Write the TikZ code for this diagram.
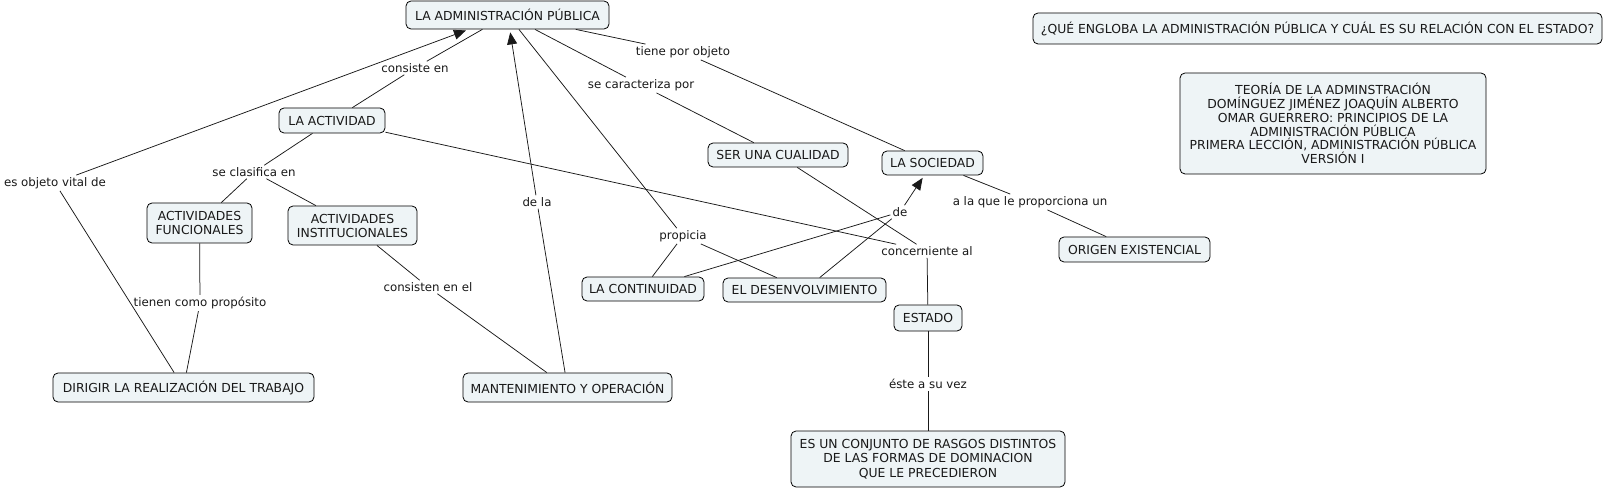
\documentclass[tikz,border=0pt]{standalone}
\usepackage{fontspec}
\setmainfont{DejaVu Sans}
\usetikzlibrary{arrows.meta}
\definecolor{cfill}{RGB}{238,244,246}
\definecolor{ctext}{RGB}{25,25,25}
\begin{document}
\begin{tikzpicture}[x=1pt,y=-1pt,
 concept/.style={draw=black, line width=0.8pt, rounded corners=5pt, fill=cfill, text=ctext, font=\fontsize{12.4}{14}\selectfont, inner sep=0pt, align=center},
 lbl/.style={text=ctext, font=\fontsize{11.8}{14}\selectfont, inner sep=2pt},
 link/.style={draw=black!90, line width=0.75pt},
 arr/.style={link, -{Triangle[length=12pt,width=10pt]}, shorten >=3pt}]
\useasboundingbox (0,0) rectangle (1604,489);
\fill[white] (0,0) rectangle (1604,489);

% concepts
\node[concept, minimum width=203pt, minimum height=28pt] (admin) at (507.5,15) {LA ADMINISTRACIÓN PÚBLICA};
\node[concept, minimum width=569pt, minimum height=31pt] (question) at (1317.5,28.5) {¿QUÉ ENGLOBA LA ADMINISTRACIÓN PÚBLICA Y CUÁL ES SU RELACIÓN CON EL ESTADO?};
\node[concept, minimum width=306pt, minimum height=101pt, font=\fontsize{12.4}{13.8}\selectfont] (info) at (1333,123.5) {TEORÍA DE LA ADMINSTRACIÓN\\DOMÍNGUEZ JIMÉNEZ JOAQUÍN ALBERTO\\OMAR GUERRERO: PRINCIPIOS DE LA\\ADMINISTRACIÓN PÚBLICA\\PRIMERA LECCIÓN, ADMINISTRACIÓN PÚBLICA\\VERSIÓN I};
\node[concept, minimum width=106pt, minimum height=25pt] (actividad) at (332,120.5) {LA ACTIVIDAD};
\node[concept, minimum width=105pt, minimum height=40pt] (funcionales) at (199.5,223) {ACTIVIDADES\\FUNCIONALES};
\node[concept, minimum width=129pt, minimum height=39pt] (institucionales) at (352.5,225.5) {ACTIVIDADES\\INSTITUCIONALES};
\node[concept, minimum width=140pt, minimum height=24pt] (cualidad) at (778,155) {SER UNA CUALIDAD};
\node[concept, minimum width=101pt, minimum height=24pt] (sociedad) at (932.5,163) {LA SOCIEDAD};
\node[concept, minimum width=151pt, minimum height=25pt] (origen) at (1134.5,249.5) {ORIGEN EXISTENCIAL};
\node[concept, minimum width=122pt, minimum height=24pt] (continuidad) at (643,289) {LA CONTINUIDAD};
\node[concept, minimum width=163pt, minimum height=24pt] (desenv) at (804.5,290) {EL DESENVOLVIMIENTO};
\node[concept, minimum width=68pt, minimum height=26pt] (estado) at (928,318) {ESTADO};
\node[concept, minimum width=261pt, minimum height=29pt] (dirigir) at (183.5,387.5) {DIRIGIR LA REALIZACIÓN DEL TRABAJO};
\node[concept, minimum width=209pt, minimum height=29pt] (mant) at (567.5,387.5) {MANTENIMIENTO Y OPERACIÓN};
\node[concept, minimum width=274pt, minimum height=56pt, font=\fontsize{12.4}{14.8}\selectfont] (conjunto) at (928,459) {ES UN CONJUNTO DE RASGOS DISTINTOS\\DE LAS FORMAS DE DOMINACION\\QUE LE PRECEDIERON};

% linking phrases
\node[lbl] (consiste) at (415,68) {consiste en};
\node[lbl] (esobj) at (55,183) {es objeto vital de};
\node[lbl] (seclas) at (254,172) {se clasifica en};
\node[lbl] (tienen) at (200,303) {tienen como propósito};
\node[lbl] (consisten) at (428,287) {consisten en el};
\node[lbl] (dela) at (537,202) {de la};
\node[lbl] (propicia) at (683,236) {propicia};
\node[lbl] (secar) at (641,85) {se caracteriza por};
\node[lbl] (tiene) at (683,52) {tiene por objeto};
\node[lbl] (alaque) at (1030,202) {a la que le proporciona un};
\node[lbl] (de) at (900,212) {de};
\node[lbl] (concern) at (927,251) {concerniente al};
\node[lbl] (este) at (928,384) {éste a su vez};

% connectors
\draw[link] (admin) -- (consiste);
\draw[link] (consiste) -- (actividad);
\draw[link] (dirigir) -- (esobj);
\draw[arr] (esobj) -- (admin);
\draw[link] (actividad) -- (seclas);
\draw[link] (seclas) -- (funcionales);
\draw[link] (seclas) -- (institucionales);
\draw[link] (funcionales) -- (tienen);
\draw[link] (tienen) -- (dirigir);
\draw[link] (institucionales) -- (consisten);
\draw[link] (consisten) -- (mant);
\draw[link] (mant) -- (dela);
\draw[arr] (dela) -- (admin);
\draw[link] (admin) -- (propicia);
\draw[link] (propicia) -- (continuidad);
\draw[link] (propicia) -- (desenv);
\draw[link] (admin) -- (secar);
\draw[link] (secar) -- (cualidad);
\draw[link] (admin) -- (tiene);
\draw[link] (tiene) -- (sociedad);
\draw[link] (sociedad) -- (alaque);
\draw[link] (alaque) -- (origen);
\draw[link] (continuidad) -- (de);
\draw[link] (desenv) -- (de);
\draw[arr] (de) -- (sociedad);
\draw[link] (actividad) -- (concern);
\draw[link] (cualidad) -- (concern);
\draw[link] (concern) -- (estado);
\draw[link] (estado) -- (este);
\draw[link] (este) -- (conjunto);
\end{tikzpicture}
\end{document}
